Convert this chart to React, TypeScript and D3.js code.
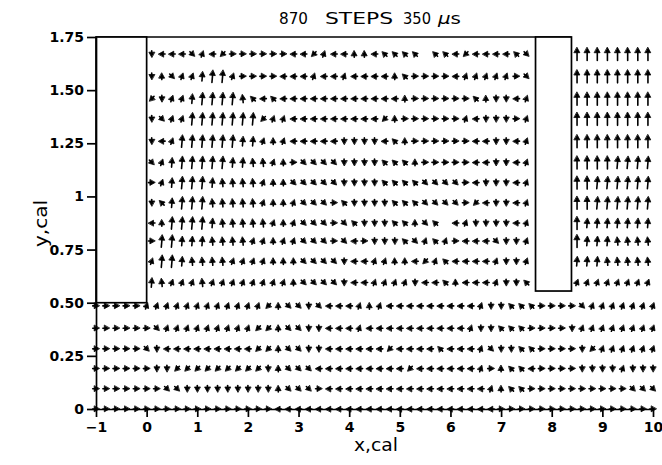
import React, { useEffect, useRef } from 'react';
import * as d3 from 'd3';

const W = 662;
const H = 465;

// grid columns
const xLower = [-1, -0.8, -0.6, -0.4, -0.2, 0, 0.2, 0.4, 0.6, 0.8, 1, 1.2, 1.4, 1.6, 1.8, 2, 2.2, 2.4, 2.6, 2.8, 3, 3.2, 3.4, 3.6, 3.8, 4, 4.2, 4.4, 4.6, 4.8, 5, 5.2, 5.4, 5.6, 5.8, 6, 6.2, 6.4, 6.6, 6.8, 7, 7.2, 7.4, 7.6, 7.8, 8, 8.2, 8.4, 8.6, 8.8, 9, 9.2, 9.4, 9.6, 9.8, 10];
const xUpper = [0.1, 0.3, 0.5, 0.7, 0.9, 1.1, 1.3, 1.5, 1.7, 1.9, 2.1, 2.3, 2.5, 2.7, 2.9, 3.1, 3.3, 3.5, 3.7, 3.9, 4.1, 4.3, 4.5, 4.7, 4.9, 5.1, 5.3, 5.5, 5.7, 5.9, 6.1, 6.3, 6.5, 6.7, 6.9, 7.1, 7.3, 7.5, 8.5, 8.7, 8.9, 9.1, 9.3, 9.5, 9.7, 9.9];

// grid rows
const yUpper = [1.67, 1.565, 1.46, 1.365, 1.26, 1.16, 1.065, 0.97, 0.875, 0.79, 0.695, 0.595];
const yLower = [0.485, 0.38, 0.283, 0.19, 0.095, 0];

// direction codes per cell (keypad directions, F/f/m/U = longer upward vectors, '.' = none)
const upperRows = [
  '24443941666666' + '4419448847777.7741' + '444473' + 'UUUUUUUU',
  '28399fFF966664' + '449449444487666649' + '999963' + 'UUUUUUUU',
  '1299fFFFFm7474' + '44444444444' + '8' + '666666' + '782249' + 'UUUUUUUU',
  '2399FFFFFFF199' + '444444444' + '1' + '8' + '666666' + '9' + '422269' + 'UUUUUUUU',
  '249FFFFFFff989' + '44444' + '2222' + '4' + '7' + '8' + '666666' + '442249' + 'UUUUUUUU',
  '39fFFFFFffmm98' + '633332222777866666' + '442249' + 'UUUUFFFF',
  '69fFFFfmmmm988' + '333332222777733336' + '422249' + 'UUFFFFFF',
  '27fFFFmmmmm988' + '933367222277733336' + '142249' + 'UUFFFFFF',
  '48FFFFfmmmmm98' + '933363722277837.49' + '222249' + 'Ufffffff',
  '6FFfffmmmm9989' + '933363462227397964' + '443229' + 'Ufffmmmm',
  '9FFfmmmm999988' + '833332449988419744' + '449229' + 'fffmmmmm',
  'fm999m99999999' + '833332449999244784' + '449227' + '99999999',
];

const lowerRows = [
  '66666' + '999999999999' + '1' + '8' + '3323' + '444' + '989' + '44444444' + '4' + '9' + '22' + '777' + '6666' + '3' + '9999999',
  '666666' + '3' + '999999999' + '11' + '8' + '332' + '2' + '444' + '9' + '4444444444' + '9' + '22' + '777' + '6666' + '2' + '99999999',
  '66666' + '3' + '2' + '444444444' + '11' + '8' + '332' + '2' + '44444414444744' + '4' + '9' + '3' + '22' + '77' + '6666' + '2' + '1' + '999999',
  '666666' + '221111111112' + '8' + '333' + '444444444144444' + '4968774666622229222',
  '6666666' + '33222222222' + '8' + '333' + '6' + '44444444444444' + '4498776666666666333',
  '666666666666666666' + '4444444444444444444444' + '6666666666666666',
];

// code -> angle in degrees and relative magnitude
const codeAngle: Record<string, number> = { '6': 0, '9': 70, '8': 90, '7': 135, '4': 180, '1': 225, '2': 270, '3': 315, 'F': 85, 'f': 85, 'm': 95, 'U': 90 };
const codeMag: Record<string, number> = { '6': 1, '9': 1, '8': 1, '7': 1, '4': 1, '1': 1, '2': 1, '3': 1, 'F': 1.9, 'f': 1.45, 'm': 1.25, 'U': 2.0 };

const xTicks = [-1, 0, 1, 2, 3, 4, 5, 6, 7, 8, 9, 10];
const xTickLabels = ['\u22121', '0', '1', '2', '3', '4', '5', '6', '7', '8', '9', '10'];
const yTicks = [0, 0.25, 0.5, 0.75, 1, 1.25, 1.5, 1.75];
const yTickLabels = ['0', '0.25', '0.50', '0.75', '1', '1.25', '1.50', '1.75'];

const leftBlock = [-1, 0, 0.5, 1.75];
const rightBlock = [7.68, 8.39, 0.555, 1.75];

const x = d3.scaleLinear().domain([-1, 10]).range([96, 653]);
const y = d3.scaleLinear().domain([0, 1.75]).range([409, 37]);

const UNIT = 6.5; // px length of a unit-magnitude arrow

function arrow(cx: number, cy: number, angDeg: number, mag: number) {
  const a = (angDeg * Math.PI) / 180;
  const len = UNIT * mag;
  const dx = Math.cos(a);
  const dy = -Math.sin(a);
  const tx = cx - (dx * len) / 2;
  const ty = cy - (dy * len) / 2;
  const hx = cx + (dx * len) / 2;
  const hy = cy + (dy * len) / 2;
  const hl = Math.min(5.2, len * 0.78);
  const hw = 2.8;
  const bx = hx - dx * hl;
  const by = hy - dy * hl;
  const px = -dy;
  const py = dx;
  return {
    shaft: `M${tx.toFixed(2)},${ty.toFixed(2)}L${bx.toFixed(2)},${by.toFixed(2)}`,
    head: `M${hx.toFixed(2)},${hy.toFixed(2)}L${(bx + px * hw).toFixed(2)},${(by + py * hw).toFixed(2)}L${(bx - px * hw).toFixed(2)},${(by - py * hw).toFixed(2)}Z`,
  };
}

function buildArrows() {
  const out: { shaft: string; head: string; key: string }[] = [];
  const add = (rows: string[], ys: number[], xs: number[], tag: string) => {
    rows.forEach((row, r) => {
      const n = Math.min(row.length, xs.length);
      for (let i = 0; i < n; i++) {
        const c = row[i];
        if (!(c in codeAngle)) continue;
        const a = arrow(x(xs[i]), y(ys[r]), codeAngle[c], codeMag[c]);
        out.push({ ...a, key: `${tag}-${r}-${i}` });
      }
    });
  };
  add(upperRows, yUpper, xUpper, 'u');
  add(lowerRows, yLower, xLower, 'l');
  return out;
}

export default function App() {
  const gx = useRef<SVGGElement>(null);
  const gy = useRef<SVGGElement>(null);

  useEffect(() => {
    const ax = d3
      .axisBottom(x)
      .tickValues(xTicks)
      .tickFormat((_d, i) => xTickLabels[i])
      .tickSize(8)
      .tickSizeOuter(0)
      .tickPadding(5);
    const g = d3.select(gx.current as SVGGElement);
    g.call(ax as any);
    g.select('.domain').attr('stroke', '#000').attr('stroke-width', 1.7);
    g.selectAll('.tick line').attr('stroke', '#000').attr('stroke-width', 1.7);
    g.selectAll('.tick text')
      .attr('fill', '#000')
      .attr('font-family', 'DejaVu Sans, sans-serif')
      .attr('font-weight', 'bold')
      .attr('font-size', 14);

    const ay = d3
      .axisLeft(y)
      .tickValues(yTicks)
      .tickFormat((_d, i) => yTickLabels[i])
      .tickSize(9)
      .tickSizeOuter(0)
      .tickPadding(3);
    const h = d3.select(gy.current as SVGGElement);
    h.call(ay as any);
    h.select('.domain').attr('stroke', '#000').attr('stroke-width', 1.7);
    h.selectAll('.tick line').attr('stroke', '#000').attr('stroke-width', 1.7);
    h.selectAll('.tick text')
      .attr('fill', '#000')
      .attr('font-family', 'DejaVu Sans, sans-serif')
      .attr('font-weight', 'bold')
      .attr('font-size', 14);
  }, []);

  const arrows = buildArrows();

  const rect = (b: number[]) => ({
    x: x(b[0]),
    y: y(b[3]),
    width: x(b[1]) - x(b[0]),
    height: y(b[2]) - y(b[3]),
  });

  return (
    <svg
      width={W}
      height={H}
      viewBox={`0 0 ${W} ${H}`}
      style={{ position: 'absolute', left: 0, top: 0, background: '#fff' }}
    >
      <rect x={0} y={0} width={W} height={H} fill="#fff" />
      {/* title */}
      <text fontFamily="DejaVu Sans, sans-serif" fontSize={16.5} fill="#000">
        <tspan x={279} y={24} textLength={29} lengthAdjust="spacingAndGlyphs">870</tspan>
        <tspan x={325} y={24} textLength={68} lengthAdjust="spacingAndGlyphs">STEPS</tspan>
        <tspan x={403} y={24} textLength={28} lengthAdjust="spacingAndGlyphs">350</tspan>
        <tspan x={438} y={24} textLength={23} lengthAdjust="spacingAndGlyphs">
          <tspan fontStyle="italic">μ</tspan>s
        </tspan>
      </text>

      {/* top border */}
      <line x1={x(-1)} x2={x(rightBlock[1])} y1={y(1.75)} y2={y(1.75)} stroke="#000" strokeWidth={1.7} />

      {/* obstacles */}
      <rect {...rect(leftBlock)} fill="#fff" stroke="#000" strokeWidth={1.7} />
      <rect {...rect(rightBlock)} fill="#fff" stroke="#000" strokeWidth={1.7} />

      {/* vectors */}
      <g stroke="#000" strokeWidth={1.6} fill="#000" strokeLinecap="round">
        {arrows.map((a) => (
          <g key={a.key}>
            <path d={a.shaft} fill="none" />
            <path d={a.head} strokeWidth={0.8} strokeLinejoin="round" />
          </g>
        ))}
      </g>

      {/* axes */}
      <g ref={gx} transform={`translate(0,${y(0)})`} />
      <g ref={gy} transform={`translate(${x(-1)},0)`} />

      {/* axis titles */}
      <text
        x={354}
        y={451}
        fontFamily="DejaVu Sans, sans-serif"
        fontSize={17}
        fill="#000"
        textLength={44}
        lengthAdjust="spacingAndGlyphs"
      >
        x,cal
      </text>
      <text
        transform="translate(47,223.5) rotate(-90)"
        textAnchor="middle"
        fontFamily="DejaVu Sans, sans-serif"
        fontSize={17}
        fill="#000"
        textLength={47}
        lengthAdjust="spacingAndGlyphs"
      >
        y,cal
      </text>
    </svg>
  );
}
